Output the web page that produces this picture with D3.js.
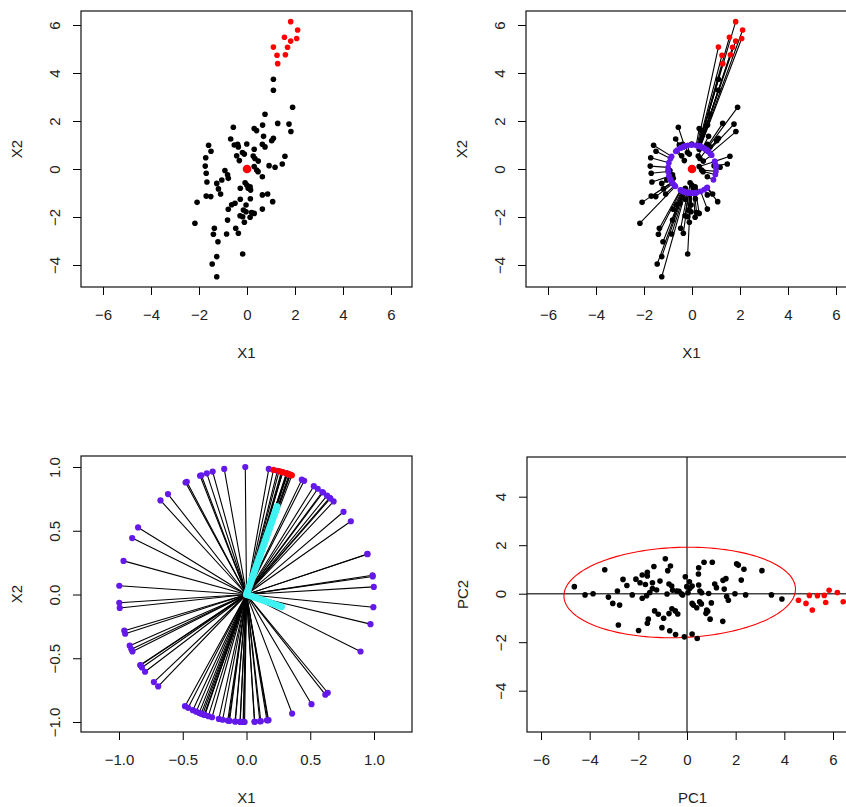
<!DOCTYPE html>
<html>
<head>
<meta charset="utf-8">
<script src="https://cdn.jsdelivr.net/npm/d3@7.9.0/dist/d3.min.js"></script>
<style>
  body { margin: 0; background: #fff; }
  svg { display: block; font-family: "Liberation Sans", Arial, sans-serif; }
</style>
</head>
<body>
<svg id="chart" width="846" height="807"></svg>
<script>
// raw data, regular observations (X1, X2)
const x1Black = [1.10, 1.10, 1.90, 0.75, -0.57, 0.30, 0.40, 0.65, 1.28, 1.75,
  1.83, 0.69, 1.10, 1.03, -0.68, -0.53, -0.39, -0.36, -0.01, 0.64,
  0.75, -1.60, -1.50, 0.30, -0.19, -0.11, -0.43, 0.26, 0.33, -1.72,
  -0.32, 0.47, 1.58, 1.47, 0.92, 1.17, -1.74, -0.92, 0.30, 0.40,
  0.46, -1.70, -0.81, -0.78, 0.64, -1.67, -1.26, -1.05, -0.08, -0.01,
  0.13, 0.05, 0.15, -0.28, -1.19, -1.10, 0.64, 0.86, -1.70, -1.51,
  -0.28, 0.14, 1.07, -2.08, -0.50, -0.64, -0.78, -0.04, -0.15, -0.04,
  0.19, 0.30, -0.29, -0.18, 0.13, 0.64, -0.81, -0.11, -2.17, -1.36,
  -0.47, -0.36, -1.40, -0.85, -1.21, -1.26, -0.18, -1.45, -1.26];
const x2Black = [3.74, 3.28, 2.57, 2.28, 1.74, 1.69, 1.60, 1.83, 1.90, 1.87,
  1.56, 1.36, 1.28, 1.18, 1.25, 1.00, 1.03, 0.92, 1.04, 1.03,
  0.92, 0.99, 0.74, 0.82, 0.69, 0.62, 0.55, 0.54, 0.44, 0.47,
  0.35, 0.33, 0.53, 0.21, 0.14, 0.07, 0.12, -0.06, 0.10, -0.04,
  -0.11, -0.18, -0.24, -0.39, -0.32, -0.54, -0.60, -0.46, -0.57, -0.67,
  -0.74, -0.80, -0.88, -0.80, -0.83, -1.04, -1.08, -1.04, -1.13, -1.15,
  -1.26, -1.24, -1.36, -1.39, -1.43, -1.49, -1.68, -1.50, -1.71, -1.78,
  -1.81, -1.85, -1.95, -1.99, -2.01, -1.67, -2.13, -2.22, -2.26, -2.47,
  -2.47, -2.68, -2.72, -2.71, -3.03, -3.65, -3.54, -3.96, -4.49];

// outliers (red)
const x1Out = [1.82, 2.11, 1.56, 1.82, 2.07, 1.10, 1.69, 1.25, 1.60, 1.28];
const x2Out = [6.14, 5.79, 5.49, 5.33, 5.44, 5.08, 5.07, 4.74, 4.76, 4.39];

// spatial median
const centerX = [0, 0];

// eigenvectors of the spatial sign covariance (scaled by eigenvalue)
const sscmVec1 = [0.24, 0.69];
const sscmVec2 = [0.275, -0.096];

// PCA scores
const pc1Black = [-4.63, -4.19, -3.86, -3.38, -3.23, -3.05, -2.86, -2.77, -2.82, -2.63,
  -2.47, -2.25, -2.10, -1.93, -1.84, -1.84, -1.99, -1.71, -1.63, -1.63,
  -1.66, -1.53, -1.42, -1.42, -1.36, -1.25, -1.59, -1.63, -1.33, -1.18,
  -1.11, -1.03, -0.96, -0.89, -0.79, -0.82, -0.74, -0.71, -0.68, -0.74,
  -0.63, -0.59, -0.62, -0.48, -0.42, -0.47, -0.38, -0.33, -0.23, -0.18,
  -0.11, -0.07, -0.01, 0.04, 0.10, 0.12, 0.21, 0.21, 0.21, 0.26,
  0.40, 0.42, 0.48, 0.47, 0.48, 0.53, 0.52, 0.59, 0.60, 0.70,
  0.81, 0.78, 0.85, 0.89, 0.95, 1.00, 1.04, 1.14, 1.21, 1.47,
  1.48, 1.53, 1.60, 1.63, 1.70, 1.97, 2.04, 2.11, 2.23, 2.34,
  2.41, 3.08, 3.47, 3.90];
const pc2Black = [0.29, -0.05, 0, 0.99, -0.14, -0.40, 0.11, -0.47, -1.29, 0.59,
  0.34, -0.05, 0.60, 0.45, 0.77, -0.19, -1.52, 0.38, 0.88, 0.73,
  -0.08, 0.05, 0.45, 0.21, 1.12, 0.15, -1.05, -1.22, -0.71, -0.85,
  0.52, -1.40, -1.01, 1.44, 0.95, -0.01, -0.82, -1.53, 1.14, 0.40,
  0.32, 0.14, -0.62, -0.71, 0.11, -1.68, -0.84, 0.10, 0, -0.05,
  -1.78, 0.70, 0.29, 0.04, 0.49, 0.22, 0.32, -1.66, -0.40, -0.47,
  -0.58, -1.85, 0.36, 0.81, 1.07, 0.11, -0.33, -0.42, 0.04, 1.30,
  -0.67, -0.81, -0.73, 0.01, -1.05, -0.38, 1.30, 0.40, 0.25, -1.14,
  0.55, 0.19, 0.62, -0.12, -0.27, 0, 1.23, 1.18, 0.56, 1.01,
  -0.05, 0.95, -0.05, -0.22];
const pc1Out = [4.58, 4.89, 5.03, 5.15, 5.36, 5.64, 5.70, 5.84, 6.18, 6.42];
const pc2Out = [-0.27, -0.40, -0.07, -0.67, -0.08, -0.07, -0.36, 0.14, 0.05, -0.33];

// tolerance ellipse on the scores
const ellipseCenter = [-0.30, 0.05];
const ellipseAxes = [4.76, 1.86];
const ellipseAngleDeg = 2;

// tick values
const ticksX = [-6, -4, -2, 0, 2, 4, 6];
const ticksY = [-4, -2, 0, 2, 4, 6];
const ticksUnit = [-1, -0.5, 0, 0.5, 1];
const ticksPC2 = [-4, -2, 0, 2, 4];

const RED = '#ff0000';
const PURPLE = '#6419ea';
const CYAN = '#3ff2f2';
const FONT = 15;

const svg = d3.select('#chart');
svg.append('rect').attr('width', 846).attr('height', 807).attr('fill', '#fff');

function makePanel(id, box, xDom, xRange, yDom, yRange) {
  let g = svg.append('g');
  g.append('clipPath').attr('id', id)
    .append('rect')
    .attr('x', box.left).attr('y', box.top)
    .attr('width', box.right - box.left).attr('height', box.bottom - box.top);
  let plot = g.append('g').attr('clip-path', `url(#${id})`);
  let x = d3.scaleLinear().domain(xDom).range(xRange);
  let y = d3.scaleLinear().domain(yDom).range(yRange);
  return { g, plot, box, x, y };
}

function drawFrame(p, xTicks, yTicks, fmt, xLab, yLab) {
  let b = p.box;
  // x axis
  let gx = p.g.append('g')
    .attr('transform', `translate(0,${b.bottom})`)
    .call(d3.axisBottom(p.x).tickValues(xTicks).tickFormat(fmt).tickSize(8));
  gx.select('.domain').remove();
  // y axis, labels turned like R does
  let gy = p.g.append('g')
    .attr('transform', `translate(${b.left},0)`)
    .call(d3.axisLeft(p.y).tickValues(yTicks).tickFormat(fmt).tickSize(8));
  gy.select('.domain').remove();
  gy.selectAll('text')
    .attr('x', null).attr('dy', null)
    .attr('text-anchor', 'middle')
    .attr('transform', 'translate(-21,0) rotate(-90)');
  [gx, gy].forEach((a) => {
    a.attr('font-size', FONT).attr('font-family', null);
    a.selectAll('line').attr('stroke', '#000');
    a.selectAll('text').attr('fill', '#222');
  });
  gx.selectAll('text').attr('dy', null).attr('y', 28 + 5.3);

  // box
  p.g.append('rect')
    .attr('x', b.left).attr('y', b.top)
    .attr('width', b.right - b.left).attr('height', b.bottom - b.top)
    .attr('fill', 'none').attr('stroke', '#111').attr('stroke-width', 1.2);

  // titles
  p.g.append('text')
    .attr('x', (b.left + b.right) / 2).attr('y', b.bottom + 66 + 5.3)
    .attr('text-anchor', 'middle').attr('font-size', FONT).attr('fill', '#222')
    .text(xLab);
  p.g.append('text')
    .attr('transform', `translate(${b.left - 64 + 5.3},${(b.top + b.bottom) / 2}) rotate(-90)`)
    .attr('text-anchor', 'middle').attr('font-size', FONT).attr('fill', '#222')
    .text(yLab);
}

function dots(p, xs, ys, color, r) {
  xs.forEach((v, i) => {
    p.plot.append('circle')
      .attr('cx', p.x(v)).attr('cy', p.y(ys[i]))
      .attr('r', r).attr('fill', color);
  });
}

function segment(p, a, b, color, w) {
  p.plot.append('line')
    .attr('x1', p.x(a[0])).attr('y1', p.y(a[1]))
    .attr('x2', p.x(b[0])).attr('y2', p.y(b[1]))
    .attr('stroke', color).attr('stroke-width', w).attr('stroke-linecap', 'round');
}

// unit-length (spatial sign) versions of every observation
function toUnit(xs, ys) {
  return xs.map((v, i) => {
    let dx = v - centerX[0], dy = ys[i] - centerX[1];
    let n = Math.hypot(dx, dy);
    return [dx / n, dy / n];
  });
}
const unitBlack = toUnit(x1Black, x2Black);
const unitOut = toUnit(x1Out, x2Out);

const fmtInt = d3.format('d');
const fmtOne = d3.format('.1f');

// ---- panel 1: raw data
let p1 = makePanel('clip1', { left: 81, right: 412, top: 11, bottom: 287 },
  [-6, 6], [103, 391], [-4, 6], [265, 25]);
dots(p1, x1Black, x2Black, '#000', 2.8);
dots(p1, x1Out, x2Out, RED, 2.8);
dots(p1, [centerX[0]], [centerX[1]], RED, 4.3);
drawFrame(p1, ticksX, ticksY, fmtInt, 'X1', 'X2');

// ---- panel 2: projection onto unit circle
let p2 = makePanel('clip2', { left: 526, right: 857, top: 11, bottom: 287 },
  [-6, 6], [548, 836], [-4, 6], [265, 25]);
x1Black.forEach((v, i) => segment(p2, [v, x2Black[i]], unitBlack[i], '#000', 1.1));
x1Out.forEach((v, i) => segment(p2, [v, x2Out[i]], unitOut[i], '#000', 1.1));
dots(p2, x1Black, x2Black, '#000', 2.8);
dots(p2, x1Out, x2Out, RED, 2.8);
dots(p2, unitBlack.map((u) => u[0]), unitBlack.map((u) => u[1]), PURPLE, 2.9);
dots(p2, [centerX[0]], [centerX[1]], RED, 4.3);
drawFrame(p2, ticksX, ticksY, fmtInt, 'X1', 'X2');

// ---- panel 3: spatial signs
let p3 = makePanel('clip3', { left: 81, right: 412, top: 456, bottom: 732 },
  [-1, 1], [119, 374], [-1, 1], [722, 467]);
unitBlack.forEach((u) => segment(p3, [0, 0], u, '#000', 1.1));
unitOut.forEach((u) => segment(p3, [0, 0], u, '#000', 1.1));
segment(p3, [0, 0], sscmVec1, CYAN, 7);
segment(p3, [0, 0], sscmVec2, CYAN, 7);
dots(p3, unitBlack.map((u) => u[0]), unitBlack.map((u) => u[1]), PURPLE, 3.1);
dots(p3, unitOut.map((u) => u[0]), unitOut.map((u) => u[1]), RED, 3.1);
drawFrame(p3, ticksUnit, ticksUnit, fmtOne, 'X1', 'X2');

// ---- panel 4: scores
let p4 = makePanel('clip4', { left: 527, right: 858, top: 457, bottom: 732 },
  [-6, 6], [541, 833], [-4, 4], [690.7, 496.7]);
p4.plot.append('line')
  .attr('x1', p4.x(0)).attr('x2', p4.x(0)).attr('y1', p4.box.top).attr('y2', p4.box.bottom)
  .attr('stroke', '#444').attr('stroke-width', 1.5);
p4.plot.append('line')
  .attr('y1', p4.y(0)).attr('y2', p4.y(0)).attr('x1', p4.box.left).attr('x2', p4.box.right)
  .attr('stroke', '#444').attr('stroke-width', 1.5);

let th = ellipseAngleDeg * Math.PI / 180;
let ell = d3.range(0, 361, 2).map((deg) => {
  let t = deg * Math.PI / 180;
  let ex = ellipseAxes[0] * Math.cos(t), ey = ellipseAxes[1] * Math.sin(t);
  return [ellipseCenter[0] + ex * Math.cos(th) - ey * Math.sin(th),
          ellipseCenter[1] + ex * Math.sin(th) + ey * Math.cos(th)];
});
p4.plot.append('path')
  .attr('d', d3.line().x((d) => p4.x(d[0])).y((d) => p4.y(d[1]))(ell))
  .attr('fill', 'none').attr('stroke', RED).attr('stroke-width', 1.1);

dots(p4, pc1Black, pc2Black, '#000', 2.8);
dots(p4, pc1Out, pc2Out, RED, 2.8);
drawFrame(p4, ticksX, ticksPC2, fmtInt, 'PC1', 'PC2');
</script>
</body>
</html>
